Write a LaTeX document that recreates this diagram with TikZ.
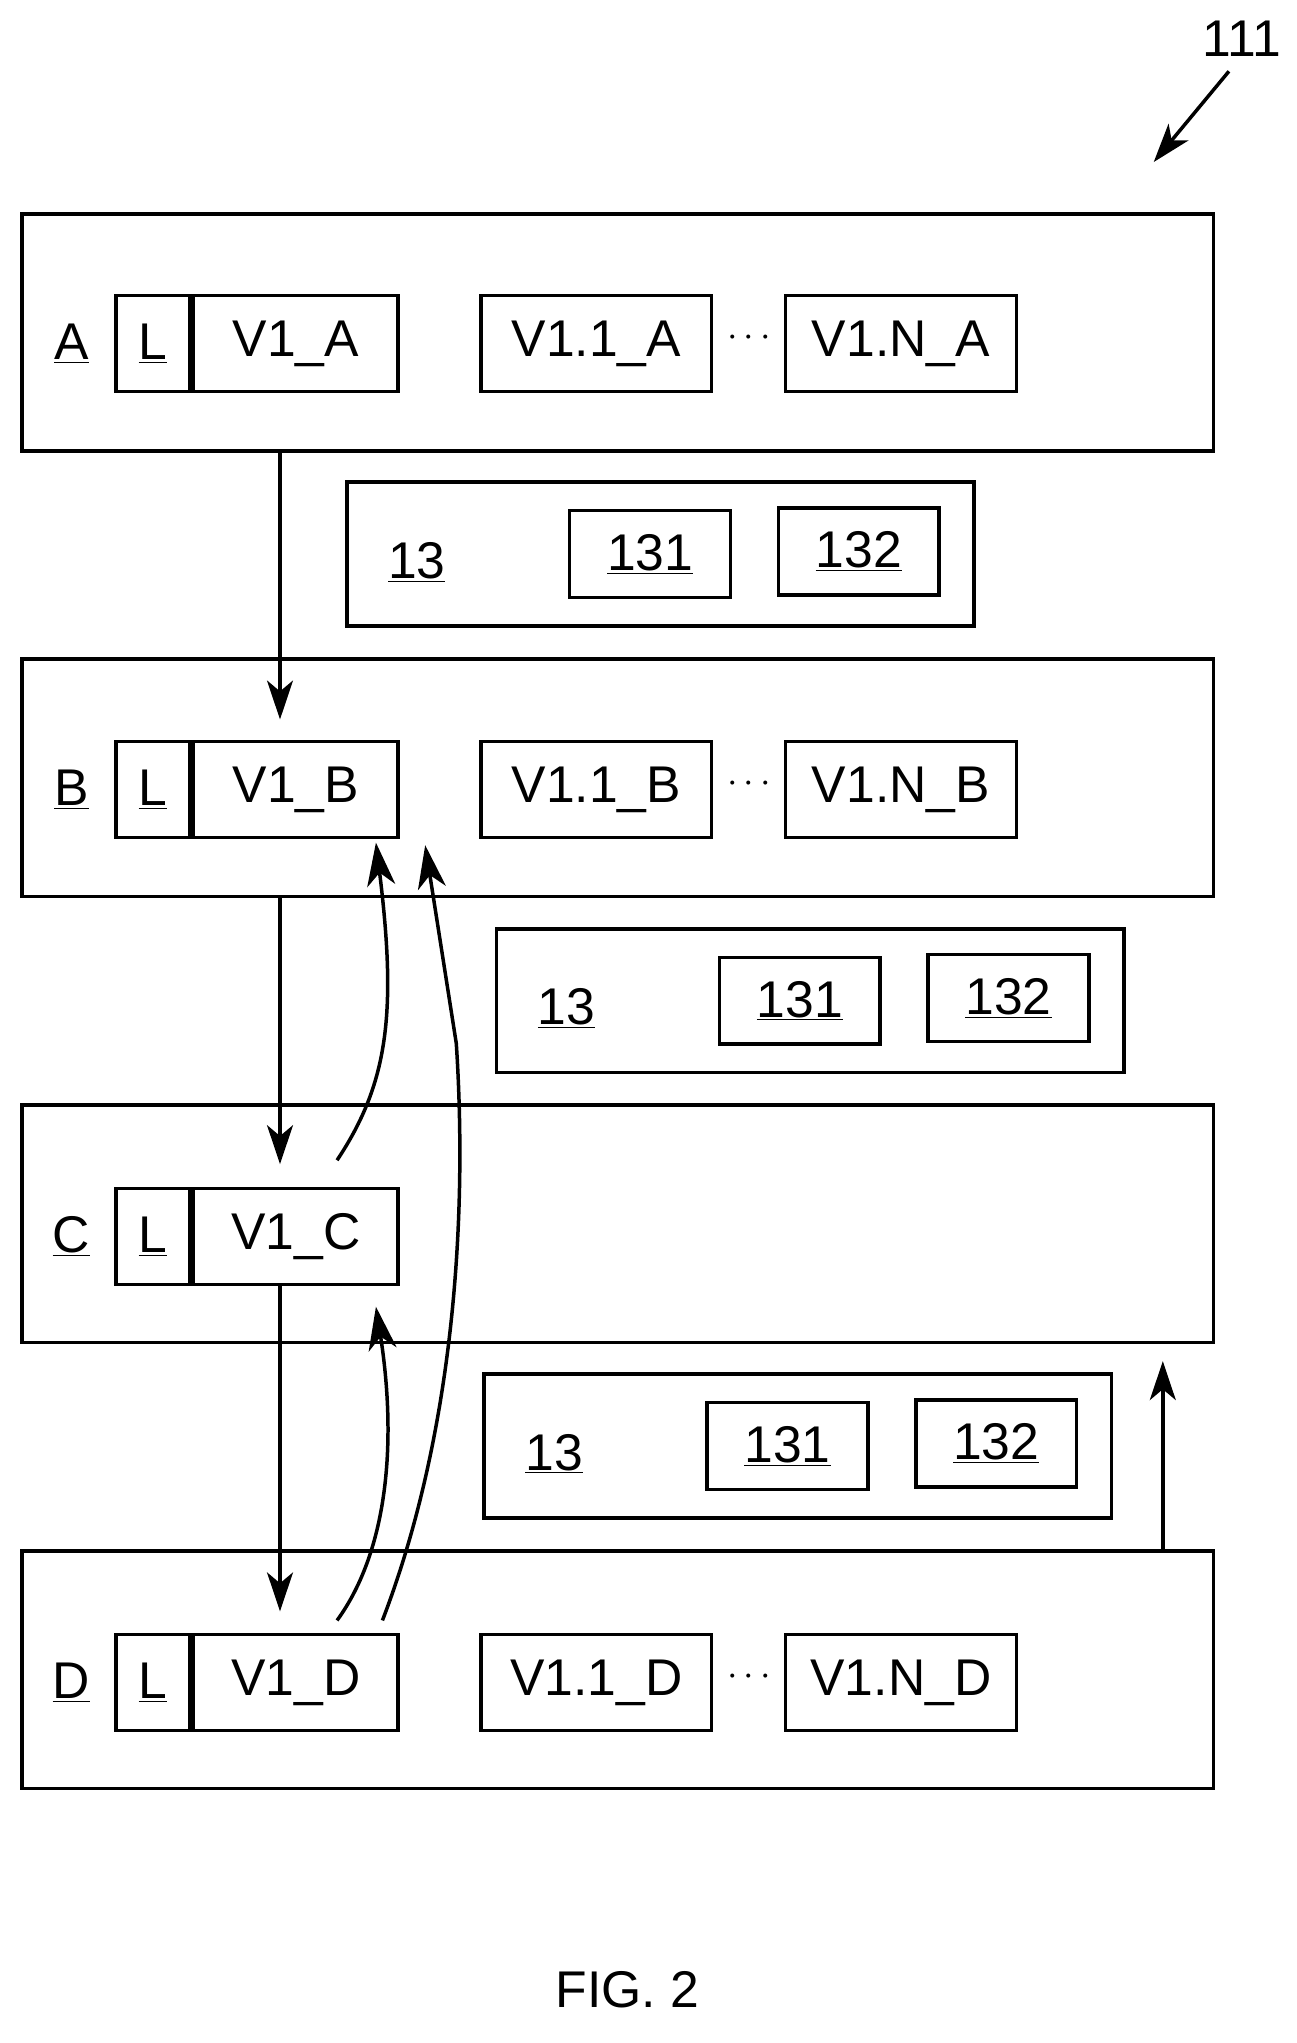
\documentclass[tikz,border=0pt]{standalone}
\usepackage{fontspec}
\setmainfont{Liberation Sans}
\usetikzlibrary{arrows.meta,positioning}

\tikzset{
  frame/.style={draw, line width=2.3pt, minimum width=919*0.03cm, minimum height=183*0.03cm, inner sep=0pt},
  cell/.style={draw, line width=2.3pt, minimum height=74*0.03cm, inner sep=0pt, font=\fontsize{34}{40}\selectfont},
  sub/.style={draw, line width=2.3pt, minimum width=124*0.03cm, minimum height=67*0.03cm, inner sep=0pt, font=\fontsize{34}{40}\selectfont},
  lbl/.style={inner sep=0pt, font=\fontsize{34}{40}\selectfont},
  arr/.style={line width=2.3pt, -{Stealth[length=0.9cm, width=0.6cm, inset=0.25cm]}},
  curv/.style={line width=2.3pt, -{Stealth[length=1.0cm, width=0.65cm, inset=0.3cm]}}
}

\begin{document}
\begin{tikzpicture}[x=0.03cm, y=-0.03cm]
\useasboundingbox (0,0) rectangle (1000,1576);

% reference number
\node[lbl] (ref) at (958,30) {111};
\coordinate (refend) at (890,125);
\draw[arr] (948,55) -- (refend);

% the four layers
\node[frame] (outA) at (476.5,256.5) {};
\node[frame] (outB) at (476.5,600) {};
\node[frame] (outC) at (476.5,944) {};
\node[frame] (outD) at (476.5,1288) {};

% L / V1 cells
\foreach \n/\y in {A/265, B/609, C/954, D/1298} {
  \node[lbl] (lab\n) at (55,\y) {\underline{\n}};
  \node[cell, minimum width=57*0.03cm] (L\n) at (118,\y) {\underline{L}};
  \node[cell, minimum width=158*0.03cm, right=0pt of L\n] (V\n) {V1\_\n};
}

% version cells
\foreach \n/\y in {A/265, B/609, D/1298} {
  \node[cell, minimum width=178*0.03cm] (Va\n) at (460,\y) {V1.1\_\n};
  \node[cell, minimum width=178*0.03cm] (Vn\n) at (695,\y) {V1.N\_\n};
  \node[lbl] (dots\n) at (578,\y-4) {$\cdots$};
}

% 13 blocks
\foreach \k/\x/\y in {1/509.5/427.5, 2/625/772, 3/615.5/1115.5} {
  \node[draw, line width=2.3pt, minimum width=484*0.03cm, minimum height=111*0.03cm] (blk\k) at (\x,\y) {};
  \node[lbl] (num\k) at (\x-188,\y+6) {\underline{13}};
  \node[sub] (s\k a) at (\x-8,\y) {\underline{131}};
  \node[sub] (s\k b) at (\x+153,\y-2) {\underline{132}};
}

% downward links
\coordinate (a1) at (216,348);
\coordinate (b1) at (216,691);
\coordinate (c1) at (216,991);
\draw[arr] (a1) -- (216,555);
\draw[arr] (b1) -- (216,898);
\draw[arr] (c1) -- (216,1243);

% upward links
\coordinate (cu) at (260,895);
\coordinate (du1) at (260,1250);
\coordinate (du2) at (295,1250);
\draw[curv] (cu) .. controls (300,835) and (306,780) .. (290,650);
\draw[curv] (du1) .. controls (300,1195) and (306,1110) .. (290,1008);
\draw[curv] (du2) .. controls (345,1120) and (362,960) .. (352,805) -- (328,652);
\coordinate (dr) at (897,1197);
\draw[arr] (dr) -- (897,1050);

\node[lbl] (fig) at (484,1535) {FIG. 2};
\end{tikzpicture}
\end{document}
